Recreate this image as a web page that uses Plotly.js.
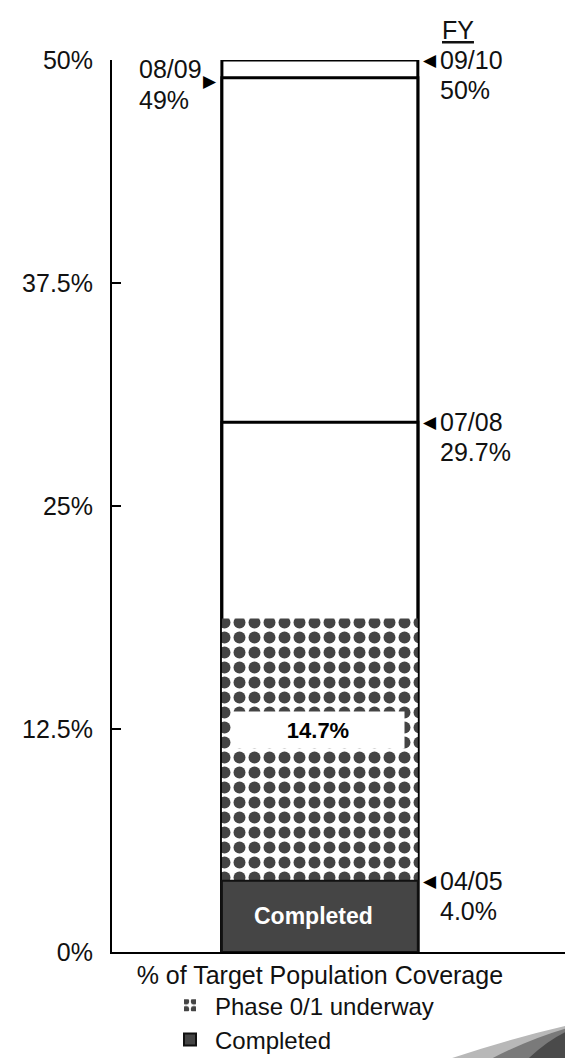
<!DOCTYPE html>
<html>
<head>
<meta charset="utf-8">
<script src="https://cdn.plot.ly/plotly-3.0.1.min.js"></script>
<style>html,body{margin:0;padding:0;background:#fff;}#chart{width:565px;height:1058px;}</style>
</head>
<body>
<div id="chart"></div>
<script>
// ---- data ----
const category = '% of Target Population Coverage';
const completedValue = 4.0;
const phaseValue = 14.7;
const milestoneYears = ['04/05', '07/08', '08/09', '09/10'];
const milestoneValues = [4.0, 29.7, 49, 50];
const milestoneLabels = ['4.0%', '29.7%', '49%', '50%'];
const tickValues = [0, 12.5, 25, 37.5, 50];
const tickLabels = ['0%', '12.5%', '25%', '37.5%', '50%'];
const legendNames = ['Phase 0/1 underway', 'Completed'];

// ---- drawing ----
const FONT = 'Liberation Sans, Arial, Helvetica, sans-serif';
const BARW = 0.92;
const halfW = BARW / 2;
const phaseTop = completedValue + phaseValue;

const traces = [];
// planned (white) segments, outlined, drawn from the tallest down
milestoneValues
  .filter(v => v > phaseTop)
  .slice().sort((a, b) => b - a)
  .forEach(v => {
    traces.push({
      type: 'bar', x: [category], y: [v], width: BARW,
      marker: { color: '#ffffff', opacity: 1, line: { color: '#000', width: 3 } },
      showlegend: false, hoverinfo: 'skip'
    });
  });
traces.push({
  type: 'bar', x: [category], y: [phaseValue], base: [completedValue], width: BARW,
  name: legendNames[0],
  marker: {
    color: '#ffffff', opacity: 1,
    pattern: { shape: '.', fgcolor: '#444444', bgcolor: '#ffffff', size: 15, solidity: 0.5, fillmode: 'replace' },
    line: { color: '#000', width: 0 }
  },
  hoverinfo: 'skip'
});
traces.push({
  type: 'bar', x: [category], y: [completedValue], width: BARW,
  name: legendNames[1],
  marker: { color: '#454545', opacity: 1, line: { color: '#111', width: 2 } },
  hoverinfo: 'skip'
});

const ann = [];
const txtFont = { family: FONT, size: 25, color: '#111' };
milestoneValues.forEach((v, i) => {
  const left = (i === 2);
  if (left) {
    ann.push({ x: -halfW, y: v, xref: 'x', yref: 'y', text: '▶', showarrow: false,
      xanchor: 'right', yanchor: 'middle', xshift: -3, yshift: -3, font: { family: 'DejaVu Sans', size: 17, color: '#000' } });
    ann.push({ x: -halfW, y: v, xref: 'x', yref: 'y', text: milestoneYears[i], showarrow: false,
      xanchor: 'left', yanchor: 'middle', xshift: -85, yshift: 9, font: txtFont });
    ann.push({ x: -halfW, y: v, xref: 'x', yref: 'y', text: milestoneLabels[i], showarrow: false,
      xanchor: 'left', yanchor: 'middle', xshift: -85, yshift: -22, font: txtFont });
  } else {
    ann.push({ x: halfW, y: v, xref: 'x', yref: 'y', text: '◀', showarrow: false,
      xanchor: 'left', yanchor: 'middle', xshift: 3, font: { family: 'DejaVu Sans', size: 17, color: '#000' } });
    ann.push({ x: halfW, y: v, xref: 'x', yref: 'y', text: milestoneYears[i], showarrow: false,
      xanchor: 'left', yanchor: 'middle', xshift: 20, font: txtFont });
    ann.push({ x: halfW, y: v, xref: 'x', yref: 'y', text: milestoneLabels[i], showarrow: false,
      xanchor: 'left', yanchor: 'middle', xshift: 20, yshift: -30, font: txtFont });
  }
});
// FY header
ann.push({ x: halfW, y: 1, xref: 'x', yref: 'paper', text: '<u>FY</u>', showarrow: false,
  xanchor: 'left', yanchor: 'bottom', xshift: 22, yshift: 14, font: txtFont });
// phase value box
ann.push({ x: 0, y: completedValue + phaseValue / 2, xref: 'x', yref: 'y',
  text: '<b>' + phaseValue.toFixed(1) + '%</b>', showarrow: false,
  xanchor: 'center', yanchor: 'middle', xshift: -2, yshift: 20,
  width: 166, height: 30, borderpad: 3, bgcolor: '#ffffff',
  font: { family: FONT, size: 22, color: '#000' } });
// completed label
ann.push({ x: 0, y: completedValue / 2, xref: 'x', yref: 'y',
  text: '<b>' + legendNames[1] + '</b>', showarrow: false,
  xanchor: 'center', yanchor: 'middle', xshift: -6,
  font: { family: FONT, size: 23, color: '#ffffff' } });

const layout = {
  width: 565, height: 1058,
  margin: { l: 112, r: 0, t: 60, b: 106, autoexpand: false },
  paper_bgcolor: '#ffffff', plot_bgcolor: '#ffffff',
  barmode: 'overlay',
  font: { family: FONT, size: 25, color: '#111' },
  showlegend: true,
  legend: {
    x: 0.117, y: -0.035, xanchor: 'left', yanchor: 'top',
    orientation: 'v', traceorder: 'normal',
    font: { family: FONT, size: 24, color: '#111' },
    bgcolor: 'rgba(0,0,0,0)', borderwidth: 0, itemwidth: 40, tracegroupgap: 0
  },
  xaxis: {
    type: 'category', range: [-0.976, 1.151], automargin: false,
    showline: true, linecolor: '#000', linewidth: 2,
    ticks: '', showgrid: false, zeroline: false, fixedrange: true,
    tickfont: { family: FONT, size: 25, color: '#111' }, ticklabelstandoff: 0
  },
  yaxis: {
    range: [0, 50], tickmode: 'array', tickvals: tickValues, ticktext: tickLabels, automargin: false,
    showline: true, linecolor: '#000', linewidth: 2,
    ticks: 'inside', ticklen: 9, tickwidth: 2, tickcolor: '#000',
    showgrid: false, zeroline: false, fixedrange: true,
    tickfont: { family: FONT, size: 25, color: '#111' }, ticklabelstandoff: 12
  },
  annotations: ann,
  shapes: [
    { type: 'path', xref: 'paper', yref: 'paper', layer: 'above',
      path: 'M 0.75,-0.119 Q 0.88,-0.097 1,-0.083 L 1,-0.119 Z',
      fillcolor: '#b8b8b8', line: { width: 0 } },
    { type: 'path', xref: 'paper', yref: 'paper', layer: 'above',
      path: 'M 0.84,-0.119 Q 0.92,-0.098 1,-0.086 L 1,-0.119 Z',
      fillcolor: '#7a7a7a', line: { width: 0 } },
    { type: 'path', xref: 'paper', yref: 'paper', layer: 'above',
      path: 'M 0.92,-0.119 Q 0.96,-0.1 1,-0.09 L 1,-0.119 Z',
      fillcolor: '#4a4a4a', line: { width: 0 } }
  ]
};

Plotly.newPlot('chart', traces, layout, { displayModeBar: false, staticPlot: true });
</script>
</body>
</html>
